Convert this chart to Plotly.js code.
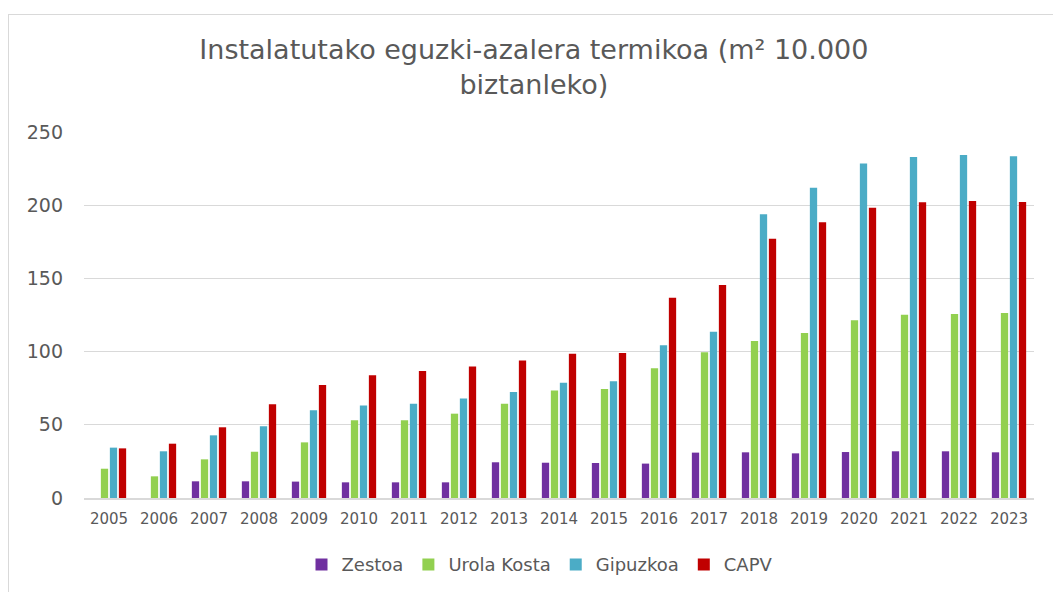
<!DOCTYPE html>
<html>
<head>
<meta charset="utf-8">
<script src="https://cdn.plot.ly/plotly-3.0.1.min.js"></script>
<style>
  html, body { margin: 0; padding: 0; background: #ffffff; }
  #frame { position: absolute; left: 8px; top: 14px; width: 1060px; height: 600px;
           border-left: 1px solid #d9d9d9; border-top: 1px solid #d9d9d9; }
  #chart { position: absolute; left: 0; top: 0; width: 1053px; height: 592px; }
</style>
</head>
<body>
<div id="frame"></div>
<div id="chart"></div>
<script>
const years = ['2005','2006','2007','2008','2009','2010','2011','2012','2013','2014','2015','2016','2017','2018','2019','2020','2021','2022','2023'];
const zestoa = [null, null, 11.4, 11.4, 11.2, 10.7, 10.7, 10.7, 24.4, 24.1, 23.9, 23.5, 31.0, 31.2, 30.5, 31.4, 31.9, 31.9, 31.2];
const urolaKosta = [20.0, 14.8, 26.4, 31.6, 38.0, 53.1, 53.1, 57.6, 64.4, 73.5, 74.5, 88.6, 99.5, 107.2, 112.7, 121.4, 125.2, 125.7, 126.4];
const gipuzkoa = [34.4, 31.9, 42.8, 49.0, 59.9, 63.1, 64.4, 67.9, 72.4, 78.8, 79.7, 104.3, 113.6, 193.8, 212.0, 228.4, 232.9, 234.3, 233.4];
const capv = [33.9, 37.1, 48.3, 64.0, 77.2, 83.8, 86.7, 89.9, 94.0, 98.6, 99.0, 136.8, 145.5, 177.1, 188.3, 198.3, 202.0, 202.9, 202.2];
const seriesNames = ['Zestoa', 'Urola Kosta', 'Gipuzkoa', 'CAPV'];
const seriesColors = ['#7030A0', '#92D050', '#4BACC6', '#C00000'];
const seriesData = [zestoa, urolaKosta, gipuzkoa, capv];

const traces = seriesData.map((vals, i) => ({
  type: 'bar',
  x: years,
  y: vals,
  name: seriesNames[i],
  marker: { color: seriesColors[i], line: { width: 0 } },
  hoverinfo: 'x+y+name'
}));

const layout = {
  width: 1053,
  height: 592,
  paper_bgcolor: 'rgba(0,0,0,0)',
  plot_bgcolor: 'rgba(0,0,0,0)',
  margin: { l: 84, r: 19, t: 132, b: 94, autoexpand: false },
  barmode: 'group',
  bargap: 0.28,
  bargroupgap: 0.19,
  font: { family: 'DejaVu Sans, Verdana, sans-serif', color: '#595959' },
  title: {
    text: 'Instalatutako eguzki-azalera termikoa (m² 10.000<br>biztanleko)',
    font: { family: 'DejaVu Sans, Verdana, sans-serif', size: 27, color: '#595959' },
    x: 0.507, xref: 'container', xanchor: 'center',
    y: 0.90, yref: 'container', yanchor: 'top'
  },
  xaxis: {
    type: 'category',
    tickfont: { size: 15, color: '#595959' },
    showgrid: false,
    showline: true,
    linecolor: '#d9d9d9',
    linewidth: 1.5,
    ticks: '',
    ticklabelstandoff: 6,
    fixedrange: true
  },
  yaxis: {
    range: [0, 250],
    tickvals: [0, 50, 100, 150, 200, 250],
    ticktext: ['0', '50', '100', '150', '200', '250'],
    tickfont: { size: 19, color: '#595959' },
    showgrid: true,
    gridcolor: '#d9d9d9',
    gridwidth: 1.3,
    zeroline: false,
    showline: false,
    ticks: '',
    ticklabelstandoff: 20,
    fixedrange: true
  },
  showlegend: true,
  legend: {
    orientation: 'h',
    x: 0.48, xanchor: 'center',
    yref: 'container',
    y: 0.046, yanchor: 'middle',
    font: { size: 18, color: '#595959' },
    itemwidth: 30,
    traceorder: 'normal'
  }
};

Plotly.newPlot('chart', traces, layout, { displayModeBar: false, staticPlot: true });
</script>
</body>
</html>
